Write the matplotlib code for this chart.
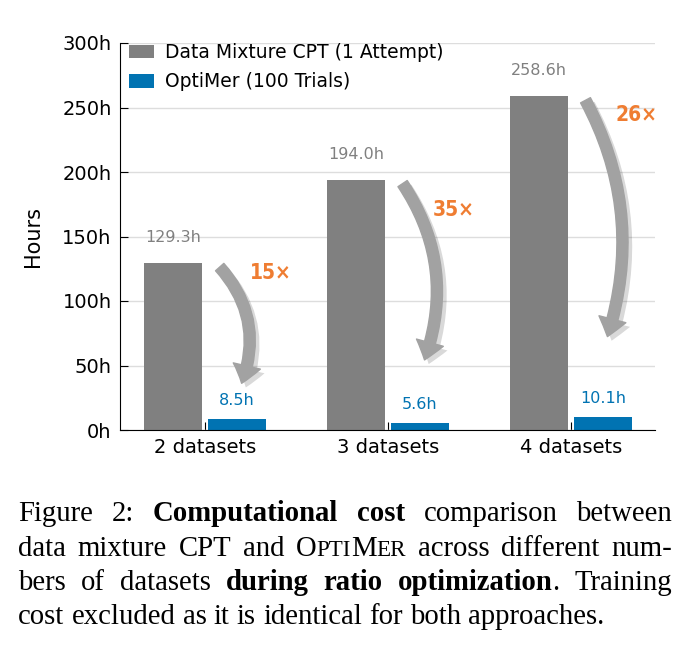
import numpy as np
import matplotlib
matplotlib.use("Agg")
import matplotlib.pyplot as plt
import matplotlib.patheffects as pe
from matplotlib.patches import FancyArrowPatch, ArrowStyle

# data
categories = ["2 datasets", "3 datasets", "4 datasets"]
cpt_hours = [129.3, 194.0, 258.6]
optimer_hours = [8.5, 5.6, 10.1]
speedups = ["15×", "35×", "26×"]
yticks = [0, 50, 100, 150, 200, 250, 300]

caption = [
    "Figure 2: *Computational *cost comparison between",
    "data mixture CPT and OPTIMER across different num-",
    "bers of datasets *during *ratio *optimization. Training",
    "cost excluded as it is identical for both approaches.",
]

GRAY = "#808080"
BLUE = "#0173b2"
ORANGE = "#ef7d32"
ARROW = "#a2a2a2"

W, H = 691, 651
fig = plt.figure(figsize=(W / 100, H / 100), dpi=100)
ax = fig.add_axes([120 / W, 1 - 430 / H, 535 / W, 387 / H])

x = np.arange(len(categories))
bw = 0.32
ax.bar(x - 0.175, cpt_hours, bw, color=GRAY, label="Data Mixture CPT (1 Attempt)", zorder=2)
ax.bar(x + 0.175, optimer_hours, bw, color=BLUE, label="OptiMer (100 Trials)", zorder=2)

for i in range(len(categories)):
    ax.annotate(f"{cpt_hours[i]:.1f}h", (x[i] - 0.175, cpt_hours[i]), xytext=(0, 13),
                textcoords="offset points", ha="center", va="bottom", fontsize=11.5, color=GRAY)
    ax.annotate(f"{optimer_hours[i]:.1f}h", (x[i] + 0.175, optimer_hours[i]), xytext=(0, 8),
                textcoords="offset points", ha="center", va="bottom", fontsize=11.5, color=BLUE)

# curved arrows from the big bar down to the small one
rads = [-0.3, -0.25, -0.21]
label_y = [0.94, 0.88, 0.945]
for i in range(len(categories)):
    arr = FancyArrowPatch((x[i] + 0.08, cpt_hours[i] - 3), (x[i] + 0.2, 0.28 * cpt_hours[i]),
                          arrowstyle=ArrowStyle.Simple(head_length=13, head_width=20, tail_width=8),
                          connectionstyle=f"arc3,rad={rads[i]}", color=ARROW, mutation_scale=1,
                          shrinkA=0, shrinkB=0, zorder=3,
                          path_effects=[pe.SimplePatchShadow(offset=(3, -3), shadow_rgbFace="k", alpha=0.15),
                                        pe.Normal()])
    ax.add_patch(arr)
    ax.text(x[i] + 0.36, cpt_hours[i] * label_y[i], speedups[i], color=ORANGE, fontsize=15,
            fontweight="bold", fontstretch="condensed", ha="center", va="center", zorder=4)

ax.set_xlim(-0.465, 2.46)
ax.set_ylim(0, 300)
ax.set_xticks(x, categories)
ax.set_yticks(yticks, [f"{v}h" for v in yticks])
ax.tick_params(axis="both", direction="in", length=6, labelsize=14, pad=6)
ax.set_ylabel("Hours", fontsize=15, labelpad=14)
ax.grid(axis="y", color="#dddddd", linewidth=1, zorder=0)
ax.spines["top"].set_visible(False)
ax.spines["right"].set_visible(False)

ax.legend(loc="upper left", bbox_to_anchor=(0.017, 1.0), frameon=False, fontsize=13.5,
          handlelength=1.35, handleheight=0.75, handletextpad=0.55, labelspacing=0.55,
          borderpad=0.0, borderaxespad=0.0)

# caption, justified word by word
cap_size = 20.7
serif = "Liberation Serif"
left, right = 18, 672
baselines = [521, 555.5, 590, 624.5]
renderer = fig.canvas.get_renderer()


def pieces(word):
    bold = word.startswith("*")
    word = word.lstrip("*")
    wt = "bold" if bold else "normal"
    if word == "OPTIMER":
        return [("O", wt, 1.0), ("PTI", wt, 0.8), ("M", wt, 1.0), ("ER", wt, 0.8)]
    if word.endswith(".") and bold:
        return [(word[:-1], wt, 1.0), (".", "normal", 1.0)]
    return [(word, wt, 1.0)]


def measure(s, wt, size):
    t = fig.text(0, 0, s, fontsize=size, fontweight=wt, family=serif)
    w = t.get_window_extent(renderer).width
    t.remove()
    return w


space = measure("n n", "normal", cap_size) - measure("nn", "normal", cap_size)

for li, line in enumerate(caption):
    words = [pieces(w) for w in line.split(" ")]
    widths = [[measure(s, wt, cap_size * sc) for s, wt, sc in wp] for wp in words]
    total = sum(sum(ws) for ws in widths)
    if li < len(caption) - 1:
        gap = (right - left - total) / (len(words) - 1)
    else:
        gap = space
    cx = left
    for wp, ws in zip(words, widths):
        for (s, wt, sc), w in zip(wp, ws):
            fig.text(cx / W, 1 - baselines[li] / H, s, fontsize=cap_size * sc, fontweight=wt,
                     family=serif, ha="left", va="baseline")
            cx += w
        cx += gap

fig.savefig("out.png", dpi=100)
